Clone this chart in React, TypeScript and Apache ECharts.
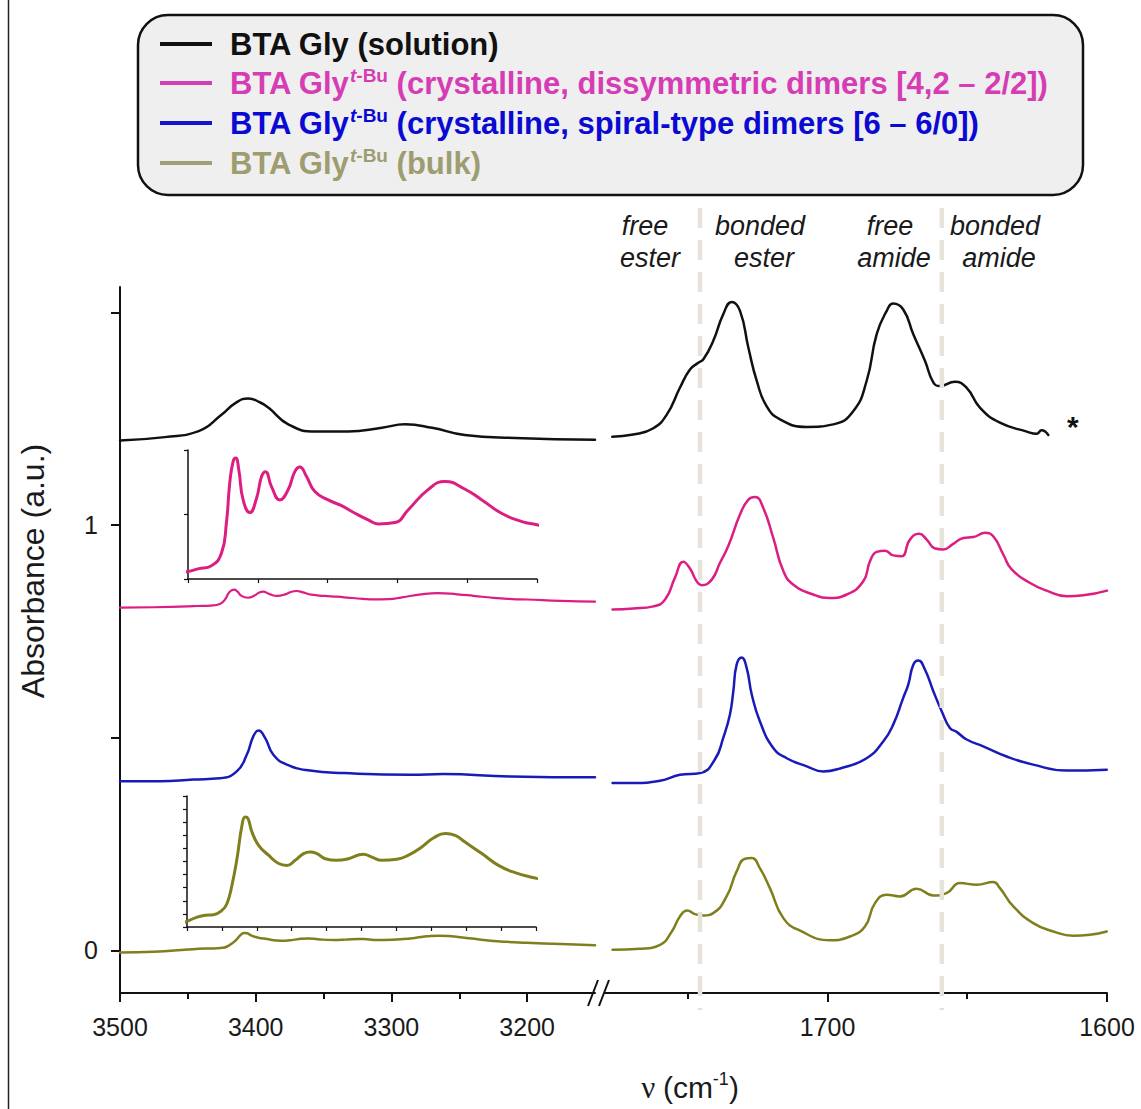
import React, { useEffect, useRef } from "react";
import * as echarts from "echarts";

const W = 1141;
const H = 1109;
const F = "'Liberation Sans', Arial, sans-serif";

// ---- data: [wavenumber (cm-1), absorbance (a.u.)] ----
const solutionLeft = [
  [3500, 1.199], [3467, 1.207], [3442, 1.221], [3425, 1.26], [3415, 1.287], [3405.5, 1.298],
  [3397, 1.289], [3390.5, 1.276], [3376, 1.237], [3356, 1.22], [3332, 1.22], [3307, 1.229],
  [3290, 1.237], [3270, 1.229], [3246, 1.212], [3209, 1.205], [3150, 1.201],
];
const solutionRight = [
  [1777, 1.208], [1769.5, 1.213], [1762.3, 1.228], [1757.5, 1.26], [1752.8, 1.323], [1749.2, 1.366],
  [1746.2, 1.382], [1744.4, 1.39], [1740.9, 1.433], [1737.3, 1.496], [1734.3, 1.525], [1731.3, 1.504],
  [1728.3, 1.417], [1725.3, 1.339], [1721.8, 1.28], [1717, 1.249], [1707.4, 1.231], [1697.9, 1.237],
  [1690.8, 1.268], [1686, 1.339], [1682.4, 1.449], [1678.8, 1.504], [1676.5, 1.521], [1672.9, 1.507],
  [1669.3, 1.449], [1665.1, 1.386], [1662.1, 1.335], [1659.8, 1.327], [1654.4, 1.337], [1650.2, 1.323],
  [1645.4, 1.276], [1638.3, 1.241], [1628.7, 1.22], [1625.2, 1.215], [1623.4, 1.223], [1621, 1.212],
];
const dissymLeft = [
  [3500, 0.806], [3475, 0.807], [3450, 0.809], [3442.8, 0.8099], [3433.2, 0.811], [3426, 0.8154],
  [3422.5, 0.8258], [3420.1, 0.8396], [3417.7, 0.8471], [3415.8, 0.8483], [3413.6, 0.8442],
  [3410.5, 0.8338], [3405.7, 0.8294], [3400.9, 0.8344], [3397.3, 0.8419], [3394.5, 0.8436],
  [3390.2, 0.8384], [3384.2, 0.8338], [3378.3, 0.8373], [3373.5, 0.8436], [3369.9, 0.8452],
  [3365.1, 0.8419], [3359.1, 0.8367], [3349.6, 0.8338], [3340, 0.8318], [3330.4, 0.8292],
  [3320.9, 0.8269], [3313.7, 0.8255], [3301.7, 0.826], [3292.2, 0.8304], [3278.2, 0.8373],
  [3265.9, 0.8402], [3251.5, 0.8375], [3239.5, 0.8338], [3224.8, 0.829], [3210.8, 0.8263],
  [3200.1, 0.8252], [3175, 0.822], [3150, 0.82],
];
const dissymRight = [
  [1776.9, 0.8016], [1769.5, 0.804], [1762.3, 0.809], [1758.1, 0.825], [1754.6, 0.876], [1751.6, 0.914],
  [1749.2, 0.898], [1746.8, 0.868], [1745, 0.859], [1741.4, 0.872], [1738.5, 0.911], [1735.5, 0.951],
  [1731.3, 1.025], [1728.3, 1.06], [1725.9, 1.066], [1723, 1.041], [1719.4, 0.97], [1715.8, 0.892],
  [1712.2, 0.86], [1705.1, 0.837], [1699.1, 0.829], [1693.1, 0.837], [1687.2, 0.868], [1684.8, 0.915],
  [1682.4, 0.937], [1679.4, 0.94], [1676.5, 0.929], [1673.5, 0.927], [1670.5, 0.966], [1667.2, 0.98],
  [1664.5, 0.966], [1661.5, 0.945], [1658.6, 0.943], [1655, 0.956], [1651.4, 0.97], [1647.8, 0.972],
  [1643.6, 0.982], [1640.7, 0.974], [1637.1, 0.931], [1634.1, 0.896], [1627.5, 0.864], [1621.6, 0.846],
  [1614.4, 0.833], [1608.5, 0.835], [1600, 0.846],
];
const spiralLeft = [
  [3500, 0.398], [3470.5, 0.398], [3446, 0.402], [3426.3, 0.405], [3414, 0.421], [3406.6, 0.46],
  [3401.7, 0.504], [3398, 0.517], [3393.1, 0.5], [3387, 0.46], [3377, 0.437], [3360, 0.423],
  [3335, 0.417], [3286, 0.413], [3262, 0.415], [3212, 0.409], [3150, 0.407],
];
const spiralRight = [
  [1776.9, 0.394], [1769.5, 0.394], [1759.9, 0.399], [1752.8, 0.413], [1745.6, 0.417], [1740.3, 0.449],
  [1737.3, 0.5], [1734.9, 0.555], [1733.7, 0.609], [1732.5, 0.672], [1730.7, 0.689], [1728.9, 0.664],
  [1727.1, 0.602], [1724.2, 0.539], [1719.4, 0.476], [1714.6, 0.452], [1707.4, 0.433], [1701.5, 0.421],
  [1695.5, 0.428], [1686, 0.452], [1680, 0.492], [1676.5, 0.531], [1672.9, 0.594], [1671.1, 0.625],
  [1669.3, 0.672], [1667.5, 0.682], [1665.1, 0.66], [1662.1, 0.609], [1659.1, 0.562], [1656.2, 0.523],
  [1653.8, 0.514], [1650.2, 0.496], [1644.3, 0.48], [1635.9, 0.456], [1626.4, 0.437], [1614.4, 0.423],
  [1600.1, 0.425],
];
const bulkLeft = [
  [3500, -0.005], [3475, -0.003], [3450, 0.0021], [3444.1, 0.0034], [3436.9, 0.0044], [3431, 0.0046],
  [3425, 0.0062], [3421.4, 0.0087], [3417.8, 0.0156], [3414.2, 0.0255], [3410.6, 0.038], [3408.3, 0.0411],
  [3406.3, 0.0405], [3403.5, 0.0355], [3398.7, 0.0305], [3391.6, 0.0268], [3384.4, 0.0237], [3378.4, 0.023],
  [3372.5, 0.0249], [3366.5, 0.0274], [3361.7, 0.028], [3356.9, 0.0274], [3351, 0.0255], [3342.6, 0.0249],
  [3334.3, 0.0255], [3323.6, 0.0272], [3317.6, 0.0261], [3310.4, 0.0249], [3299.7, 0.0253], [3291.4, 0.0268],
  [3281.8, 0.0299], [3273.5, 0.0332], [3264.9, 0.0349], [3257.9, 0.0342], [3250.8, 0.0317], [3238.8, 0.0274],
  [3226.9, 0.023], [3215, 0.0203], [3200.7, 0.0183], [3175, 0.015], [3150, 0.012],
];
const bulkRight = [
  [1776.9, 0.0016], [1767.1, 0.004], [1759.9, 0.0134], [1755.7, 0.0447], [1752.8, 0.08], [1750.2, 0.0941],
  [1747.4, 0.0854], [1744.4, 0.0824], [1740.9, 0.0878], [1736.1, 0.1271], [1732.5, 0.1859], [1729.5, 0.2158],
  [1727.1, 0.2172], [1724.2, 0.1936], [1720.6, 0.1466], [1715.8, 0.076], [1709.8, 0.0464], [1699.1, 0.0242],
  [1692, 0.0329], [1686.6, 0.0565], [1683, 0.1113], [1678.8, 0.1311], [1674.1, 0.1271], [1668.1, 0.1452],
  [1662.1, 0.1294], [1657.4, 0.1348], [1652.6, 0.1584], [1646.6, 0.1546], [1640.7, 0.1607], [1638.3, 0.1466],
  [1633.5, 0.1035], [1626.4, 0.0642], [1619.2, 0.0447], [1612.1, 0.0346], [1606.1, 0.0369], [1600.1, 0.0447],
];

// ---- axes / ticks ----
const leftRange = [3150, 3500];
const rightRange = [1600, 1779.6];
const yRange = [-0.1, 1.56];
const xTicksLeft = [3500, 3400, 3300, 3200];
const xMinorLeft = [3450, 3350, 3250];
const xTicksRight = [1700, 1600];
const xMinorRight = [1750, 1650];
const yTicks = [0, 0.5, 1, 1.5];
const yLabels = [0, 1];
const insetXRange = [3200, 3450];
const insetPinkY = [0.8064, 0.8511];
const insetOliveY = [0, 0.0489];
const dividers = [1745.6, 1659.1];
const asteriskPoint = [1612.2, 1.233];

const legendRows = [
  { color: "#111111", line: "#111111", main: "BTA Gly (solution)", sup: false },
  { color: "#d63cb4", line: "#d63cb4", main: " (crystalline, dissymmetric dimers [4,2 \u2013 2/2])", sup: true },
  { color: "#0a0ad2", line: "#1414c8", main: " (crystalline, spiral-type dimers [6 \u2013 6/0])", sup: true },
  { color: "#9d9d70", line: "#a0a078", main: " (bulk)", sup: true },
];
const annotations = [
  { text: "free", x: 645, y: 226 },
  { text: "ester", x: 650, y: 258 },
  { text: "bonded", x: 760, y: 226 },
  { text: "ester", x: 764, y: 258 },
  { text: "free", x: 890, y: 226 },
  { text: "amide", x: 894, y: 258 },
  { text: "bonded", x: 995, y: 226 },
  { text: "amide", x: 999, y: 258 },
];

const C = { black: "#111111", pink: "#dc1e82", blue: "#1a1ab8", olive: "#7f7f1e" };

function line(data: number[][], color: string, xi: number, width: number) {
  return {
    type: "line",
    data,
    xAxisIndex: xi,
    yAxisIndex: xi,
    showSymbol: false,
    symbol: "none",
    smooth: 0.5,
    clip: true,
    lineStyle: { color, width, join: "round", cap: "round" },
    silent: true,
  };
}

const plain = (v: number) => String(v);

function mainX(grid: number, range: number[], ticks: number[]) {
  return {
    type: "value", gridIndex: grid, min: range[0], max: range[1], inverse: true, position: "bottom",
    axisLine: { show: true, onZero: false, lineStyle: { color: "#111", width: 2 } },
    axisTick: { show: true, inside: false, length: 9, customValues: ticks, lineStyle: { color: "#111", width: 2 } },
    axisLabel: { show: true, customValues: ticks, formatter: plain, fontSize: 25, fontFamily: F, color: "#1a1a1a", margin: 21 },
    splitLine: { show: false },
  };
}
function minorX(grid: number, range: number[], ticks: number[]) {
  return {
    type: "value", gridIndex: grid, min: range[0], max: range[1], inverse: true, position: "bottom",
    axisLine: { show: false, onZero: false },
    axisTick: { show: true, inside: false, length: 6, customValues: ticks, lineStyle: { color: "#111", width: 2 } },
    axisLabel: { show: false },
    splitLine: { show: false },
  };
}
function hiddenY(grid: number) {
  return { type: "value", gridIndex: grid, min: yRange[0], max: yRange[1], show: false, splitLine: { show: false } };
}

const oliveYTicks = Array.from({ length: 11 }, (_, i) => insetOliveY[0] + ((insetOliveY[1] - insetOliveY[0]) * i) / 10);
const pinkYTicks = [insetPinkY[0], (insetPinkY[0] + insetPinkY[1]) / 2, insetPinkY[1]];

const option: any = {
  animation: false,
  backgroundColor: "#ffffff",
  grid: [
    { left: 120, top: 287, width: 475, height: 706 },
    { left: 605, top: 287, width: 502, height: 706 },
    { left: 188, top: 450, width: 349, height: 129 },
    { left: 187, top: 796, width: 349, height: 131 },
    { left: 120, top: 287, width: 475, height: 706 },
    { left: 605, top: 287, width: 502, height: 706 },
  ],
  xAxis: [
    mainX(0, leftRange, xTicksLeft),
    mainX(1, rightRange, xTicksRight),
    {
      type: "value", gridIndex: 2, min: insetXRange[0], max: insetXRange[1], inverse: true, interval: 50,
      axisLine: { show: true, onZero: false, lineStyle: { color: "#111", width: 1.5 } },
      axisTick: { show: true, length: 4, lineStyle: { color: "#111", width: 1.2 } },
      axisLabel: { show: false }, splitLine: { show: false },
    },
    {
      type: "value", gridIndex: 3, min: insetXRange[0], max: insetXRange[1], inverse: true, interval: 25,
      axisLine: { show: true, onZero: false, lineStyle: { color: "#111", width: 1.5 } },
      axisTick: { show: true, length: 4, lineStyle: { color: "#111", width: 1.2 } },
      axisLabel: { show: false }, splitLine: { show: false },
    },
    minorX(4, leftRange, xMinorLeft),
    minorX(5, rightRange, xMinorRight),
  ],
  yAxis: [
    {
      type: "value", gridIndex: 0, min: yRange[0], max: yRange[1],
      axisLine: { show: true, onZero: false, lineStyle: { color: "#111", width: 2 } },
      axisTick: { show: true, inside: false, length: 9, customValues: yTicks, lineStyle: { color: "#111", width: 2 } },
      axisLabel: { show: true, customValues: yLabels, formatter: plain, fontSize: 25, fontFamily: F, color: "#1a1a1a", margin: 22 },
      splitLine: { show: false },
    },
    hiddenY(1),
    {
      type: "value", gridIndex: 2, min: insetPinkY[0], max: insetPinkY[1],
      axisLine: { show: true, onZero: false, lineStyle: { color: "#111", width: 1.5 } },
      axisTick: { show: true, length: 4, customValues: pinkYTicks, lineStyle: { color: "#111", width: 1.2 } },
      axisLabel: { show: false }, splitLine: { show: false },
    },
    {
      type: "value", gridIndex: 3, min: insetOliveY[0], max: insetOliveY[1],
      axisLine: { show: true, onZero: false, lineStyle: { color: "#111", width: 1.5 } },
      axisTick: { show: true, length: 4, customValues: oliveYTicks, lineStyle: { color: "#111", width: 1.2 } },
      axisLabel: { show: false }, splitLine: { show: false },
    },
    hiddenY(4),
    hiddenY(5),
  ],
  series: [
    line(solutionLeft, C.black, 0, 2.5),
    line(solutionRight, C.black, 1, 2.5),
    line(dissymLeft, C.pink, 0, 2.2),
    line(dissymRight, C.pink, 1, 2.5),
    line(spiralLeft, C.blue, 0, 2.5),
    line(spiralRight, C.blue, 1, 2.5),
    line(bulkLeft, C.olive, 0, 2.5),
    line(bulkRight, C.olive, 1, 2.5),
    line(dissymLeft, C.pink, 2, 3),
    line(bulkLeft, C.olive, 3, 3),
  ],
};

function legendGraphics() {
  const els: any[] = [
    {
      type: "rect", z: 50,
      shape: { x: 138, y: 15, width: 945, height: 180, r: 30 },
      style: { fill: "#efefef", stroke: "#111", lineWidth: 2.5 },
    },
  ];
  const ys = [44, 83, 123, 163];
  legendRows.forEach((row, i) => {
    els.push({
      type: "line", z: 51,
      shape: { x1: 160, y1: ys[i], x2: 212, y2: ys[i] },
      style: { stroke: row.line, lineWidth: 4 },
    });
    const rich = {
      b: { fontFamily: F, fontSize: 31, fontWeight: "bold", fill: row.color, lineHeight: 34 },
      si: { fontFamily: F, fontSize: 19, fontWeight: "bold", fontStyle: "italic", fill: row.color, verticalAlign: "top", lineHeight: 19 },
      s: { fontFamily: F, fontSize: 19, fontWeight: "bold", fill: row.color, verticalAlign: "top", lineHeight: 19 },
    };
    const text = row.sup ? `{b|BTA Gly}{si|t}{s|-Bu}{b|${row.main}}` : `{b|${row.main}}`;
    els.push({
      type: "text", z: 52, x: 230, y: ys[i],
      style: { text, rich, textAlign: "left", verticalAlign: "middle", fill: row.color },
    });
  });
  return els;
}

function staticGraphics() {
  const els: any[] = [
    { type: "line", z: 10, shape: { x1: 8.5, y1: 0, x2: 8.5, y2: H }, style: { stroke: "#222", lineWidth: 1.5 } },
    ...legendGraphics(),
    { type: "line", z: 60, shape: { x1: 588, y1: 1006, x2: 598, y2: 980 }, style: { stroke: "#111", lineWidth: 2 } },
    { type: "line", z: 60, shape: { x1: 599, y1: 1006, x2: 609, y2: 980 }, style: { stroke: "#111", lineWidth: 2 } },
    {
      type: "text", z: 60, x: 33, y: 571, rotation: Math.PI / 2,
      style: { text: "Absorbance (a.u.)", fontFamily: F, fontSize: 32, fill: "#1a1a1a", textAlign: "center", verticalAlign: "middle" },
    },
    {
      type: "text", z: 60, x: 690, y: 1087,
      style: {
        text: "{g|\u03bd }{n|(cm}{s|-1}{n|)}",
        textAlign: "center", verticalAlign: "middle",
        rich: {
          g: { fontFamily: "'Liberation Serif', 'Times New Roman', serif", fontSize: 31, fill: "#1a1a1a", lineHeight: 34 },
          n: { fontFamily: F, fontSize: 30, fill: "#1a1a1a", lineHeight: 34 },
          s: { fontFamily: F, fontSize: 18, fill: "#1a1a1a", verticalAlign: "top", lineHeight: 18 },
        },
      },
    },
  ];
  annotations.forEach((a) => {
    els.push({
      type: "text", z: 60, x: a.x, y: a.y,
      style: { text: a.text, fontFamily: F, fontSize: 27, fontStyle: "italic", fill: "#1a1a1a", textAlign: "center", verticalAlign: "middle" },
    });
  });
  return els;
}

export default function App() {
  const ref = useRef<HTMLDivElement>(null);
  useEffect(() => {
    document.body.style.margin = "0";
    const chart = echarts.init(ref.current!, null, { renderer: "svg" });
    chart.setOption(option);
    const dashed = dividers.map((v) => {
      const x = chart.convertToPixel({ xAxisIndex: 1 }, v) as unknown as number;
      return {
        type: "line", z: 100,
        shape: { x1: x, y1: 208, x2: x, y2: 1010 },
        style: { stroke: "#e6e3d9", lineWidth: 4.5, lineDash: [20, 12] },
      };
    });
    const p = chart.convertToPixel({ gridIndex: 1 }, asteriskPoint) as unknown as number[];
    const asterisk = {
      type: "text", z: 60, x: p[0], y: p[1],
      style: { text: "*", fontFamily: F, fontSize: 30, fontWeight: "bold", fill: "#111", textAlign: "center", verticalAlign: "middle" },
    };
    chart.setOption({ graphic: [...staticGraphics(), ...dashed, asterisk] });
    return () => chart.dispose();
  }, []);
  return <div ref={ref} style={{ width: W, height: H }} />;
}
